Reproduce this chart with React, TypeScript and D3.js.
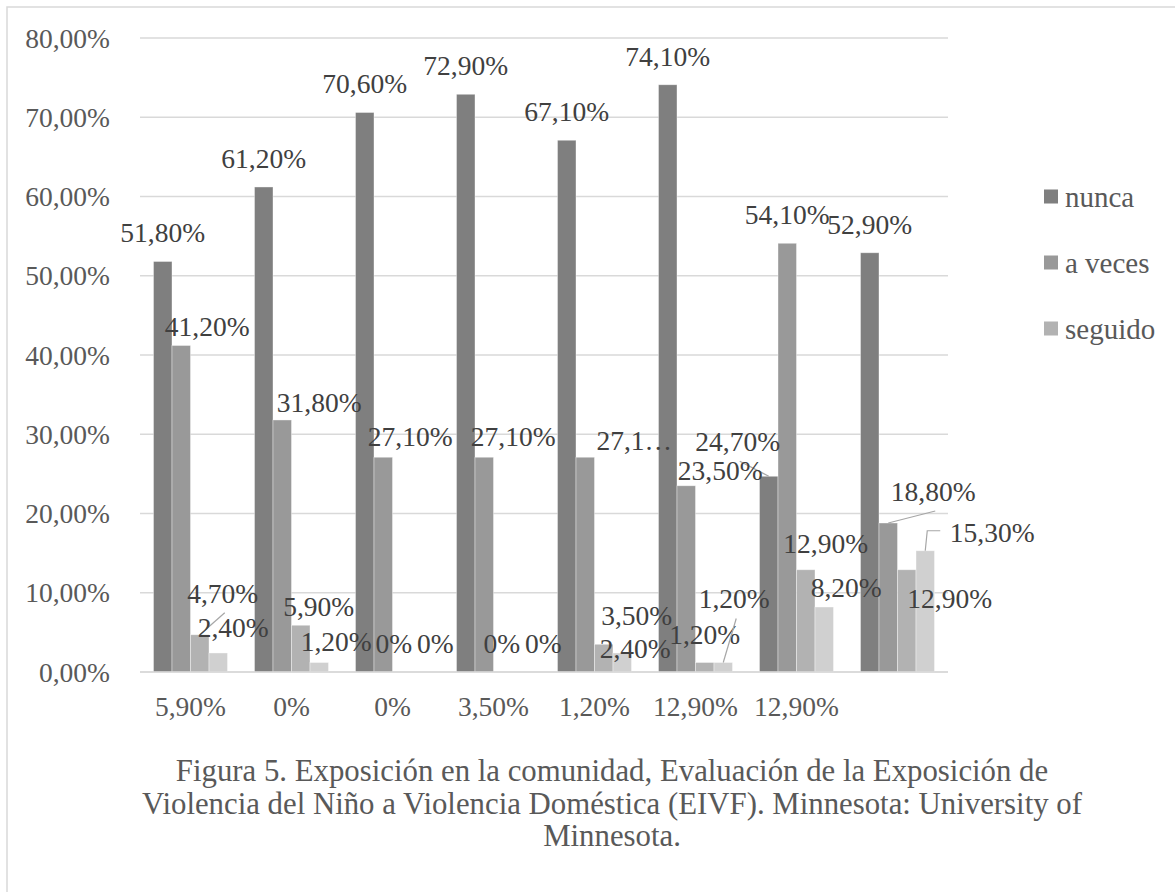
import { useEffect } from "react";
import * as d3 from "d3";

// categorías (tal como salen en el eje X del original)
const categories = ["5,90%", "0%", "0%", "3,50%", "1,20%", "12,90%", "12,90%", ""];

const nunca = [51.8, 61.2, 70.6, 72.9, 67.1, 74.1, 24.7, 52.9];
const aVeces = [41.2, 31.8, 27.1, 27.1, 27.1, 23.5, 54.1, 18.8];
const seguido = [4.7, 5.9, 0, 0, 3.5, 1.2, 12.9, 12.9];
const serie4 = [2.4, 1.2, 0, 0, 2.4, 1.2, 8.2, 15.3];

const seriesNames = ["nunca", "a veces", "seguido", ""];
const seriesColors = ["#7f7f7f", "#999999", "#b2b2b2", "#d0d0d0"];
const yTicks = [0, 10, 20, 30, 40, 50, 60, 70, 80];

const caption = [
  "Figura 5. Exposición en la comunidad, Evaluación de la Exposición de",
  "Violencia del Niño a Violencia Doméstica (EIVF). Minnesota: University of",
  "Minnesota.",
];

// etiquetas movidas a mano en el original
type Adj = { s: number; g: number; dx: number; dy: number; leader?: "line" | "elbow"; text?: string };
const labelAdj: Adj[] = [
  { s: 0, g: 6, dx: -31, dy: -6, leader: "line" },
  { s: 1, g: 0, dx: 26, dy: 10 },
  { s: 1, g: 1, dx: 37, dy: 11 },
  { s: 1, g: 2, dx: 27, dy: 8 },
  { s: 1, g: 3, dx: 29, dy: 8 },
  { s: 1, g: 4, dx: 49, dy: 12, text: "27,1…" },
  { s: 1, g: 5, dx: 34, dy: 13 },
  { s: 1, g: 7, dx: 45, dy: -3, leader: "line" },
  { s: 2, g: 0, dx: 23, dy: -13, leader: "line" },
  { s: 2, g: 1, dx: 18, dy: 10 },
  { s: 2, g: 2, dx: -8, dy: 0 },
  { s: 2, g: 3, dx: -1, dy: 0 },
  { s: 2, g: 4, dx: 33, dy: 0 },
  { s: 2, g: 5, dx: 0, dy: 1 },
  { s: 2, g: 6, dx: 20, dy: 2 },
  { s: 2, g: 7, dx: 43, dy: 57 },
  { s: 3, g: 0, dx: 15, dy: 3 },
  { s: 3, g: 1, dx: 17, dy: 8 },
  { s: 3, g: 2, dx: 15, dy: 0 },
  { s: 3, g: 3, dx: 22, dy: 0 },
  { s: 3, g: 4, dx: 13, dy: 24 },
  { s: 3, g: 5, dx: 11, dy: -35, leader: "line" },
  { s: 3, g: 6, dx: 22, dy: 9 },
  { s: 3, g: 7, dx: 67, dy: 10, leader: "elbow" },
];

const fmt = (v: number) => (v === 0 ? "0%" : v.toFixed(2).replace(".", ",") + "%");
const fmtAxis = (v: number) => v.toFixed(2).replace(".", ",") + "%";

const FONT = "Liberation Serif";

export default function App() {
  useEffect(() => {
    document.body.style.margin = "0";
  }, []);

  const W = 1175;
  const H = 892;
  const left = 140;
  const right = 948;
  const top = 38;
  const bottom = 672;
  const fs = 27.5;

  const data = [nunca, aVeces, seguido, serie4];

  const x0 = d3
    .scaleBand<number>()
    .domain(d3.range(categories.length))
    .range([left, right])
    .paddingInner(27 / 101)
    .paddingOuter(13.5 / 101);
  const x1 = d3.scaleBand<number>().domain(d3.range(4)).range([0, x0.bandwidth()]);
  const y = d3.scaleLinear().domain([0, 80]).range([bottom, top]);

  const labels = data.flatMap((vals, s) =>
    vals.map((v, g) => {
      const cx = (x0(g) ?? 0) + (x1(s) ?? 0) + x1.bandwidth() / 2;
      const barTop = y(v);
      const adj = labelAdj.find((a) => a.s === s && a.g === g);
      const lx = cx + (adj?.dx ?? 0);
      const ly = barTop - 19 + (adj?.dy ?? 0);
      return { s, g, cx, barTop, lx, ly, text: adj?.text ?? fmt(v), leader: adj?.leader };
    })
  );

  return (
    <svg width={W} height={H} style={{ display: "block", background: "#fff" }}>
      <rect x={7} y={7} width={W + 20} height={H + 20} fill="none" stroke="#d9d9d9" strokeWidth={1.5} />

      {yTicks.map((t) => (
        <g key={t}>
          <line x1={left} x2={right} y1={y(t)} y2={y(t)} stroke="#d9d9d9" strokeWidth={1.5} />
          <text x={110} y={y(t) + 9.5} textAnchor="end" fontFamily={FONT} fontSize={fs} fill="#595959">
            {fmtAxis(t)}
          </text>
        </g>
      ))}

      {data.map((vals, s) =>
        vals.map((v, g) => (
          <rect
            key={`${s}-${g}`}
            x={(x0(g) ?? 0) + (x1(s) ?? 0)}
            y={y(v)}
            width={x1.bandwidth()}
            height={bottom - y(v)}
            fill={seriesColors[s]}
            stroke="#ffffff"
            strokeOpacity={0.5}
            strokeWidth={0.75}
          />
        ))
      )}

      <line x1={left} x2={right} y1={bottom} y2={bottom} stroke="#d9d9d9" strokeWidth={1.5} />

      {categories.map((c, g) => (
        <text
          key={g}
          x={(x0(g) ?? 0) + x0.bandwidth() / 2}
          y={716}
          textAnchor="middle"
          fontFamily={FONT}
          fontSize={fs}
          fill="#595959"
        >
          {c}
        </text>
      ))}

      {labels.map((l) => {
        let leader = null;
        if (l.leader === "line") {
          leader = (
            <line x1={l.lx + 2} y1={l.ly + 10} x2={l.cx} y2={l.barTop} stroke="#a6a6a6" strokeWidth={1.2} />
          );
        } else if (l.leader === "elbow") {
          const ay = l.ly - 11;
          leader = (
            <path
              d={`M${l.lx - 52},${ay}H${l.cx + 2}L${l.cx},${l.barTop}`}
              fill="none"
              stroke="#a6a6a6"
              strokeWidth={1.2}
            />
          );
        }
        return (
          <g key={`l${l.s}-${l.g}`}>
            {leader}
            <text x={l.lx} y={l.ly} textAnchor="middle" fontFamily={FONT} fontSize={fs} fill="#404040">
              {l.text}
            </text>
          </g>
        );
      })}

      {seriesNames.slice(0, 3).map((n, i) => (
        <g key={n} transform={`translate(1044, ${197 + i * 66})`}>
          <rect x={0} y={-7.5} width={14} height={14} fill={seriesColors[i]} />
          <text x={21} y={10} fontFamily={FONT} fontSize={29} fill="#595959">
            {n}
          </text>
        </g>
      ))}

      {caption.map((line, i) => (
        <text
          key={i}
          x={612}
          y={781 + i * 32.5}
          textAnchor="middle"
          fontFamily={FONT}
          fontSize={30.8}
          fill="#595959"
        >
          {line}
        </text>
      ))}
    </svg>
  );
}
